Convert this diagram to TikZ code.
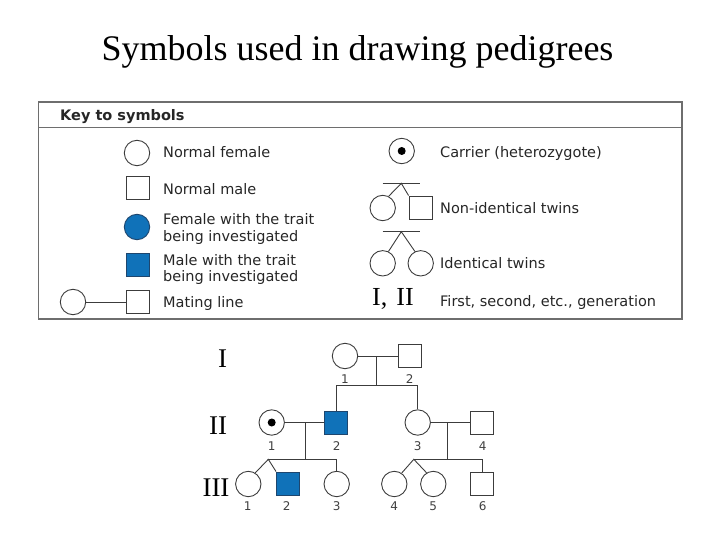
\documentclass[tikz,border=0pt]{standalone}
\usepackage{fontspec}
\setmainfont{Liberation Serif}
\newfontfamily\keyfont{DejaVu Sans}
\definecolor{trait}{RGB}{16,114,185}
\definecolor{traitedge}{RGB}{30,70,110}
\definecolor{ln}{RGB}{60,60,60}
\definecolor{boxc}{RGB}{110,110,110}
\begin{document}
\begin{tikzpicture}[x=1pt,y=-1pt,
  fem/.style={circle,draw=ln,line width=0.9pt,minimum size=25.4pt,inner sep=0pt},
  mal/.style={rectangle,draw=ln,line width=0.9pt,minimum size=23pt,inner sep=0pt},
  aff/.style={fill=trait,draw=traitedge},
  lbl/.style={font=\keyfont\fontsize{14.5}{16}\selectfont,anchor=base west,inner sep=0pt,text=black!85},
  num/.style={font=\keyfont\fontsize{12}{14}\selectfont,anchor=base,inner sep=0pt,text=black!75},
  gen/.style={font=\fontsize{27}{30}\selectfont,inner sep=0pt},
  conn/.style={draw=ln,line width=0.9pt}]
\useasboundingbox (0,0) rectangle (720,540);

% title
\node[font=\fontsize{36}{40}\selectfont,anchor=base] (title) at (357.5,61) {Symbols used in drawing pedigrees};

% key box
\draw[boxc,line width=1.2pt] (38.5,102) rectangle (682,319);
\draw[boxc,line width=1.2pt] (38.5,127.5) -- (682,127.5);
\node[lbl,font=\keyfont\bfseries\fontsize{14.5}{16}\selectfont] (keyt) at (60,120.7) {Key to symbols};

% left column
\node[fem] (kf) at (137,153) {};
\node[mal] (km) at (137.5,188) {};
\node[fem,aff] (kfa) at (137,227) {};
\node[mal,aff] (kma) at (137.5,264.5) {};
\node[fem] (kmf) at (73,302) {};
\node[mal] (kmm) at (137.5,302) {};
\draw[conn] (kmf) -- (kmm);

\node[lbl] (t1) at (163,157.8) {Normal female};
\node[lbl] (t2) at (163,194.5) {Normal male};
\node[lbl] (t3) at (163,225) {Female with the trait};
\node[lbl] (t3b) at (163,241.7) {being investigated};
\node[lbl] (t4) at (163,265) {Male with the trait};
\node[lbl] (t4b) at (163,281) {being investigated};
\node[lbl] (t5) at (163,307) {Mating line};

% right column
\node[fem] (kc) at (401.7,151) {};
\fill[black] (kc.center) circle (4);

\coordinate (kb1l) at (382.7,183.3);
\coordinate (kb1r) at (420,183.3);
\coordinate (ka1) at (401.3,183.3);
\node[fem] (kn1) at (382.7,208) {};
\node[mal] (kn2) at (420.5,207.5) {};
\draw[conn] (kb1l) -- (kb1r);
\draw[conn] (kn1.63) -- (ka1) -- (kn2.north west);

\coordinate (kb2l) at (382.7,231.7);
\coordinate (kb2r) at (420,231.7);
\coordinate (ka2) at (401.3,231.7);
\node[fem] (ki1) at (382.7,263.3) {};
\node[fem] (ki2) at (420.7,263.3) {};
\draw[conn] (kb2l) -- (kb2r);
\draw[conn] (ki1.64) -- (ka2) -- (ki2.116);

\node[font=\fontsize{26}{28}\selectfont,anchor=base west,inner sep=0pt] (kgen) at (372,305.5) {I,\hspace{9pt}II};

\node[lbl] (r1) at (440,157.8) {Carrier (heterozygote)};
\node[lbl] (r2) at (440,213.5) {Non-identical twins};
\node[lbl] (r3) at (440,268.5) {Identical twins};
\node[lbl] (r4) at (440,306) {First, second, etc., generation};

% pedigree generation labels
\node[gen] (gI) at (222.5,359) {I};
\node[gen] (gII) at (218,426) {II};
\node[gen] (gIII) at (216,488) {III};

% generation I
\node[fem] (p11) at (345,356) {};
\node[mal] (p12) at (409.7,356) {};
\draw[conn] (p11) -- (p12);
\coordinate (m1) at (376.7,356);
\coordinate (s1) at (376.7,385);
\coordinate (s1l) at (336,385);
\coordinate (s1r) at (417.7,385);
\draw[conn] (m1) -- (s1);
\draw[conn] (s1l) -- (s1r);

% generation II
\node[fem] (p21) at (271.7,422.5) {};
\fill[black] (p21.center) circle (4);
\node[mal,aff] (p22) at (336,422.5) {};
\node[fem] (p23) at (417.7,422.5) {};
\node[mal] (p24) at (482,422.5) {};
\draw[conn] (s1l) -- (p22);
\draw[conn] (s1r) -- (p23);
\draw[conn] (p21) -- (p22);
\draw[conn] (p23) -- (p24);
\coordinate (m2) at (305.7,422.5);
\coordinate (s2) at (305.7,459.3);
\coordinate (m3) at (447.3,422.5);
\coordinate (s3) at (447.3,459.3);
\draw[conn] (m2) -- (s2);
\draw[conn] (m3) -- (s3);

% generation III
\node[fem] (p31) at (248.3,484) {};
\node[mal,aff] (p32) at (288,483.5) {};
\node[fem] (p33) at (336.7,484) {};
\node[fem] (p34) at (394.3,484) {};
\node[fem] (p35) at (433.3,484) {};
\node[mal] (p36) at (482,483.5) {};
\coordinate (a2) at (268.3,459.3);
\coordinate (s2r) at (336.7,459.3);
\coordinate (a3) at (413.8,459.3);
\coordinate (s3r) at (482,459.3);
\draw[conn] (a2) -- (s2r) -- (p33);
\draw[conn] (p31.58) -- (a2) -- (p32.north west);
\draw[conn] (a3) -- (s3r) -- (p36);
\draw[conn] (p34.56) -- (a3) -- (p35.121);

% numbers
\node[num] (n11) at (345,383) {1};
\node[num] (n12) at (409.7,383) {2};
\node[num] (n21) at (271.7,450.7) {1};
\node[num] (n22) at (336.7,450.7) {2};
\node[num] (n23) at (417.7,450.7) {3};
\node[num] (n24) at (482.7,450.7) {4};
\node[num] (n31) at (247.7,510) {1};
\node[num] (n32) at (286.7,510) {2};
\node[num] (n33) at (336.7,510) {3};
\node[num] (n34) at (394.3,510) {4};
\node[num] (n35) at (433.3,510) {5};
\node[num] (n36) at (482.7,510) {6};
\end{tikzpicture}
\end{document}
